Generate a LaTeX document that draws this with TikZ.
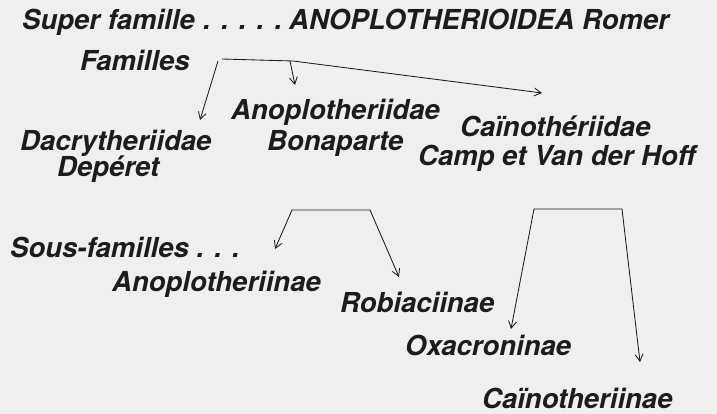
\documentclass[tikz,border=0pt]{standalone}
\usepackage{fontspec}
\setmainfont{TeX Gyre Heros}
\usetikzlibrary{arrows.meta}
\definecolor{paper}{RGB}{240,239,237}
\definecolor{ink}{RGB}{28,28,28}
\begin{document}
\begin{tikzpicture}[x=1pt,y=-1pt,
  lbl/.style={font=\fontsize{27.5}{31}\selectfont\bfseries\itshape, text=ink, inner sep=0pt, anchor=base west},
  conn/.style={draw=ink, line width=0.85pt, line join=round},
  tip/.style={-{Straight Barb[length=7pt,width=8pt]}},
  tips/.style={{Straight Barb[length=7pt,width=8pt]}-{Straight Barb[length=7pt,width=8pt]}}]
\fill[paper] (0,0) rectangle (717,414);
\useasboundingbox (0,0) rectangle (717,414);
% texts
\node[lbl] (sup) at (22,30) {Super famille};
\node[lbl] (dots) at (203,30) {. . . . .};
\node[lbl] (anoplo) at (289,30) {ANOPLOTHERIOIDEA Romer};
\node[lbl] (fam) at (80,71) {Familles};
\node[lbl] (dacry) at (20,151) {Dacrytheriidae};
\node[lbl] (dep) at (57,177) {Depéret};
\node[lbl] (anoplid) at (231,120) {Anoplotheriidae};
\node[lbl] (bonap) at (267,151) {Bonaparte};
\node[lbl] (caino) at (460,137) {Caïnothériidae};
\node[lbl] (camp) at (418,166) {Camp et Van der Hoff};
\node[lbl] (sous) at (10,257) {Sous-familles . . .};
\node[lbl] (anoplin) at (112,291) {Anoplotheriinae};
\node[lbl] (robia) at (340,312) {Robiaciinae};
\node[lbl] (oxa) at (405,355) {Oxacroninae};
\node[lbl] (cainin) at (482,408) {Caïnotheriinae};
% familles bracket
\coordinate (fl) at (218,61);
\coordinate (fa) at (222,59);
\coordinate (fm) at (290,61);
\coordinate (fb) at (293,61);
\coordinate (tdacry) at (200,120);
\coordinate (tanopl) at (295,85);
\coordinate (tcaino) at (542,93);
\draw[conn,tip] (fl) -- (tdacry);
\draw[conn,tip] (fa) -- (fb) -- (tcaino);
\draw[conn,tip] (fm) -- (tanopl);
% sous-familles brackets
\coordinate (b1l) at (275,249);
\coordinate (b1tl) at (292,210);
\coordinate (b1tr) at (370,210);
\coordinate (b1r) at (399,277);
\draw[conn,tips] (b1l) -- (b1tl) -- (b1tr) -- (b1r);
\coordinate (b2l) at (511,329);
\coordinate (b2tl) at (534,209);
\coordinate (b2tr) at (622,209);
\coordinate (b2r) at (640,362);
\draw[conn,tips] (b2l) -- (b2tl) -- (b2tr) -- (b2r);
\end{tikzpicture}
\end{document}
